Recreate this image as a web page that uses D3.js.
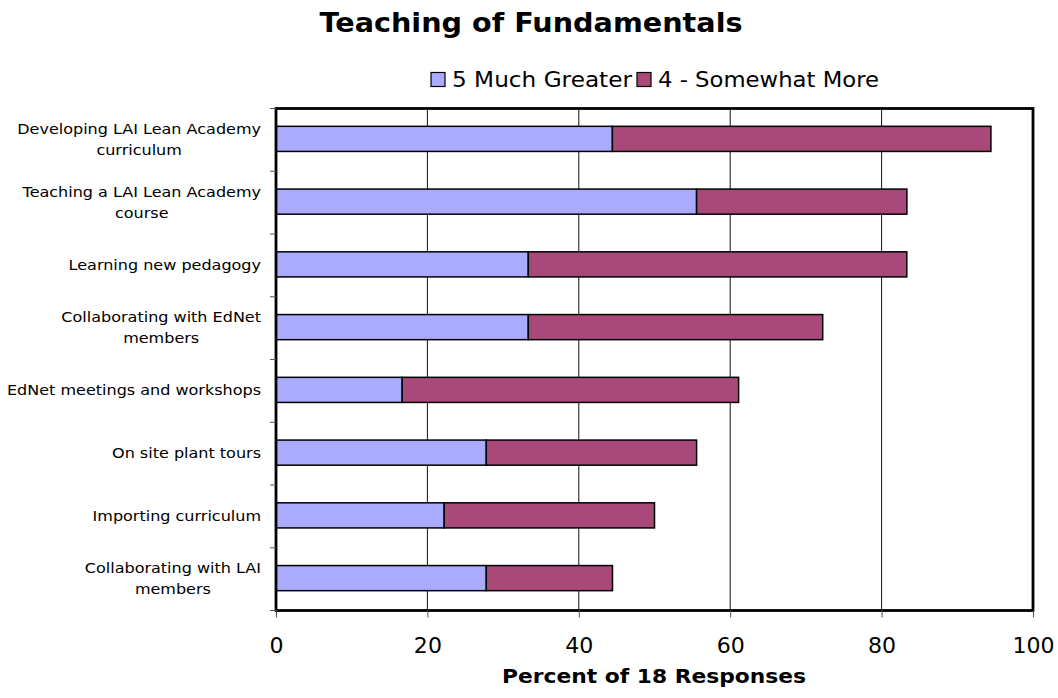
<!DOCTYPE html>
<html><head><meta charset="utf-8">
<script src="https://cdn.jsdelivr.net/npm/d3@7"></script>
<style>body{margin:0;background:#fff}svg{display:block}text{font-family:"DejaVu Sans",Verdana,sans-serif}</style>
</head><body>
<svg id="c" width="1058" height="698"></svg>
<script>
const categories = [
  ["Developing LAI Lean Academy", "curriculum"],
  ["Teaching a LAI Lean Academy", "course"],
  ["Learning new pedagogy"],
  ["Collaborating with EdNet", "members"],
  ["EdNet meetings and workshops"],
  ["On site plant tours"],
  ["Importing curriculum"],
  ["Collaborating with LAI", "members"]
];
const seriesNames = ["5 Much Greater", "4 - Somewhat More"];
const muchGreater = [44.44, 55.56, 33.33, 33.33, 16.67, 27.78, 22.22, 27.78];
const somewhatMore = [50.00, 27.78, 50.00, 38.89, 44.44, 27.78, 27.78, 16.67];
const xTicks = [0, 20, 40, 60, 80, 100];
const colors = ["#AAAAFF", "#A8497A"];

(function () {
const svg = d3.select("#c");
const pL = 276, pR = 1033, pT = 108.5, pB = 610.5;
const x = d3.scaleLinear().domain([0, 100]).range([pL, pR]);
const y = d3.scaleBand().domain(d3.range(categories.length)).range([pT, pB]).paddingInner(0.6).paddingOuter(0.3);
const WIDEN = 1.12;

function widen(sel, k) {
  sel.each(function () {
    const w = this.getComputedTextLength();
    d3.select(this).attr("textLength", w * k).attr("lengthAdjust", "spacingAndGlyphs");
  });
}

svg.append("g").selectAll("line").data(xTicks.slice(1, -1)).join("line")
  .attr("x1", d => x(d)).attr("x2", d => x(d)).attr("y1", pT).attr("y2", pB)
  .attr("stroke", "#111").attr("stroke-width", 1);

const stacked = categories.map((c, i) => [
  {s: 0, x0: 0, x1: muchGreater[i], i},
  {s: 1, x0: muchGreater[i], x1: muchGreater[i] + somewhatMore[i], i}
]).flat();
svg.append("g").selectAll("rect").data(stacked).join("rect")
  .attr("x", d => x(d.x0)).attr("width", d => x(d.x1) - x(d.x0))
  .attr("y", d => y(d.i) - 1).attr("height", y.bandwidth())
  .attr("fill", d => colors[d.s]).attr("stroke", "#000").attr("stroke-width", 1.5);

svg.append("rect").attr("x", pL).attr("y", pT).attr("width", pR - pL).attr("height", pB - pT)
  .attr("fill", "none").attr("stroke", "#000").attr("stroke-width", 2.8);

const step = (pB - pT) / categories.length;
svg.append("g").selectAll("line").data(d3.range(categories.length + 1)).join("line")
  .attr("x1", pL - 6).attr("x2", pL).attr("y1", d => pT + d * step).attr("y2", d => pT + d * step)
  .attr("stroke", "#555").attr("stroke-width", 1);

const xa = svg.append("g").attr("transform", `translate(0,${pB})`)
  .call(d3.axisBottom(x).tickValues(xTicks).tickSize(7));
xa.select(".domain").remove();
xa.selectAll(".tick line").attr("stroke", "#555");
xa.selectAll(".tick text").attr("font-size", 21).attr("fill", "#000").attr("y", 42.5).attr("dy", 0)
  .style("font-family", '"DejaVu Sans",Verdana,sans-serif');
widen(xa.selectAll(".tick text"), 1.05);

const lab = svg.append("g");
categories.forEach((lines, i) => {
  const cy = y(i) + y.bandwidth() / 2 - 1;
  const lh = 21;
  const t = lab.append("text").attr("text-anchor", "middle").attr("font-size", 14.3).attr("fill", "#000");
  const spans = lines.map((l, j) =>
    t.append("tspan").attr("x", 0).attr("y", cy + 5.5 + (j - (lines.length - 1) / 2) * lh).text(l));
  let maxW = 0;
  spans.forEach(s => {
    const w = s.node().getComputedTextLength() * WIDEN;
    s.attr("textLength", w).attr("lengthAdjust", "spacingAndGlyphs");
    maxW = Math.max(maxW, w);
  });
  spans.forEach(s => s.attr("x", 261 - maxW / 2));
});

svg.append("text").attr("x", 531).attr("y", 32).attr("text-anchor", "middle")
  .attr("font-size", 27).attr("font-weight", "bold")
  .attr("textLength", 423).attr("lengthAdjust", "spacingAndGlyphs").text("Teaching of Fundamentals");

svg.append("text").attr("x", 654).attr("y", 683).attr("text-anchor", "middle")
  .attr("font-size", 19.5).attr("font-weight", "bold")
  .attr("textLength", 304).attr("lengthAdjust", "spacingAndGlyphs").text("Percent of 18 Responses");

const lg = svg.append("g");
const legendX = [431, 637];
const legendW = [180, 221];
seriesNames.forEach((n, i) => {
  lg.append("rect").attr("x", legendX[i]).attr("y", 72.5).attr("width", 14).attr("height", 14)
    .attr("fill", colors[i]).attr("stroke", "#000").attr("stroke-width", 1.2);
  lg.append("text").attr("x", legendX[i] + 21).attr("y", 87).attr("font-size", 20.5)
    .attr("textLength", legendW[i]).attr("lengthAdjust", "spacingAndGlyphs").text(n);
});
})();
</script>
</body></html>
